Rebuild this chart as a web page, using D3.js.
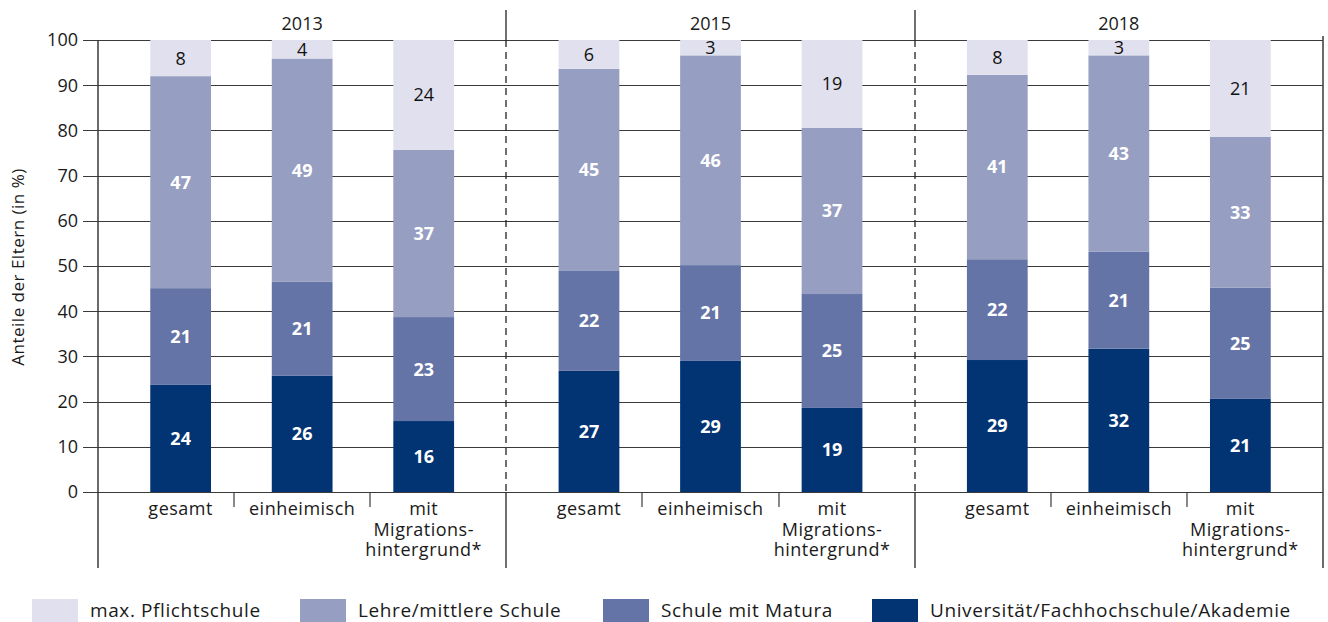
<!DOCTYPE html>
<html>
<head>
<meta charset="utf-8">
<script src="https://cdn.jsdelivr.net/npm/d3@7"></script>
<style>
  body { margin: 0; background: #fff; }
  svg { display: block; font-family: "Open Sans", Lato, sans-serif; }
  .lbl { letter-spacing: 0.5px; }
  .leg { letter-spacing: 0.6px; }
</style>
</head>
<body>
<div id="chart"></div>
<script>
// data (in %)
const years = ["2013", "2015", "2018"];
const groups = ["gesamt", "einheimisch", "mit Migrationshintergrund*"];
const groupLines = [["gesamt"], ["einheimisch"], ["mit", "Migrations-", "hintergrund*"]];
const levels = ["Universität/Fachhochschule/Akademie", "Schule mit Matura", "Lehre/mittlere Schule", "max. Pflichtschule"];
const colors = ["#023474", "#6574a6", "#969ec2", "#e0e0ee"];

// one value per bar: 2013 x3, 2015 x3, 2018 x3
const uni     = [23.7, 25.7, 15.7, 26.8, 29.0, 18.6, 29.2, 31.7, 20.6];
const matura  = [21.4, 20.8, 23.0, 22.1, 21.2, 25.2, 22.3, 21.45, 24.6];
const lehre   = [46.9, 49.4, 37.0, 44.7, 46.4, 36.8, 40.8, 43.45, 33.4];
const pflicht = [8.0, 4.1, 24.3, 6.4, 3.4, 19.4, 7.7, 3.4, 21.4];
const yTicks = [0, 10, 20, 30, 40, 50, 60, 70, 80, 90, 100];

const width = 1328, height = 622;
const plotLeft = 98, plotRight = 1323, plotTop = 40, plotBottom = 492, frameBottom = 568;

const rows = [];
years.forEach((yr, i) => {
    groups.forEach((g, j) => {
        const k = i * 3 + j;
        rows.push({ year: yr, group: g, values: [uni[k], matura[k], lehre[k], pflicht[k]] });
    });
});

const svg = d3.select("#chart").append("svg")
    .attr("width", width)
    .attr("height", height);

const y = d3.scaleLinear().domain([0, 100]).range([plotBottom, plotTop]);
const xYear = d3.scaleBand().domain(years).range([plotLeft, plotRight]);
const xGroup = d3.scaleBand().domain(groups).range([0, xYear.bandwidth()])
    .paddingInner(0.5).paddingOuter(0.43);

// horizontal grid lines with tick stubs
svg.append("g")
    .selectAll("line")
    .data(yTicks)
    .enter()
    .append("line")
    .attr("x1", 83)
    .attr("x2", plotRight)
    .attr("y1", (d) => Math.round(y(d)) + 0.5)
    .attr("y2", (d) => Math.round(y(d)) + 0.5)
    .attr("stroke", "#3a3a3a")
    .attr("stroke-width", 1.2);

svg.append("g")
    .selectAll("text")
    .data(yTicks)
    .enter()
    .append("text")
    .attr("x", 78)
    .attr("y", (d) => y(d))
    .attr("dy", "0.36em")
    .attr("text-anchor", "end")
    .attr("font-size", 18)
    .attr("fill", "#1a1a1a")
    .text((d) => d);

svg.append("text")
    .attr("class", "lbl")
    .attr("transform", `translate(24,${(plotTop + plotBottom) / 2 + 1}) rotate(-90)`)
    .attr("text-anchor", "middle")
    .attr("font-size", 17)
    .attr("fill", "#1a1a1a")
    .text("Anteile der Eltern (in %)");

// stacked bars
const bars = svg.append("g")
    .selectAll("g")
    .data(rows)
    .enter()
    .append("g")
    .attr("transform", (d) => `translate(${xYear(d.year) + xGroup(d.group)},0)`);

bars.each(function (d) {
    let base = 0;
    const segs = d.values.map((v, i) => {
        const s = { v, i, y0: base, y1: base + v };
        base += v;
        return s;
    });
    const g = d3.select(this);
    g.selectAll("rect")
        .data(segs)
        .enter()
        .append("rect")
        .attr("x", 0)
        .attr("width", xGroup.bandwidth())
        .attr("y", (s) => y(s.y1))
        .attr("height", (s) => y(s.y0) - y(s.y1))
        .attr("fill", (s) => colors[s.i]);
    g.selectAll("text")
        .data(segs)
        .enter()
        .append("text")
        .attr("x", xGroup.bandwidth() / 2)
        .attr("y", (s) => y((s.y0 + s.y1) / 2))
        .attr("dy", "0.36em")
        .attr("text-anchor", "middle")
        .attr("font-size", 18)
        .attr("font-weight", (s) => (s.i === 3 ? "normal" : "bold"))
        .attr("fill", (s) => (s.i === 3 ? "#111" : "#fff"))
        .text((s) => Math.round(s.v));
});

// frame: left axis, year separators, right border
svg.append("line")
    .attr("x1", plotLeft).attr("x2", plotLeft)
    .attr("y1", plotTop).attr("y2", frameBottom)
    .attr("stroke", "#3a3a3a").attr("stroke-width", 1.5);
svg.append("line")
    .attr("x1", plotRight).attr("x2", plotRight)
    .attr("y1", plotTop - 4).attr("y2", frameBottom)
    .attr("stroke", "#3a3a3a").attr("stroke-width", 1.5);

const seps = years.slice(1).map((yr) => Math.round(xYear(yr)));
const sepG = svg.append("g")
    .selectAll("g")
    .data(seps)
    .enter()
    .append("g");
sepG.append("line")
    .attr("x1", (d) => d).attr("x2", (d) => d)
    .attr("y1", 10).attr("y2", plotTop)
    .attr("stroke", "#222").attr("stroke-width", 1.3);
sepG.append("line")
    .attr("x1", (d) => d).attr("x2", (d) => d)
    .attr("y1", plotTop).attr("y2", plotBottom)
    .attr("stroke", "#222").attr("stroke-width", 1.3)
    .attr("stroke-dasharray", "7,5");
sepG.append("line")
    .attr("x1", (d) => d).attr("x2", (d) => d)
    .attr("y1", plotBottom).attr("y2", frameBottom)
    .attr("stroke", "#222").attr("stroke-width", 1.3);

// year headers
svg.append("g")
    .selectAll("text")
    .data(years)
    .enter()
    .append("text")
    .attr("x", (d) => xYear(d) + xYear.bandwidth() / 2)
    .attr("y", 30)
    .attr("text-anchor", "middle")
    .attr("font-size", 18)
    .attr("fill", "#1a1a1a")
    .text((d) => d);

// small ticks between categories inside each year
const thirds = [];
years.forEach((yr) => {
    thirds.push(xYear(yr) + xYear.bandwidth() / 3, xYear(yr) + (2 * xYear.bandwidth()) / 3);
});
svg.append("g")
    .selectAll("line")
    .data(thirds)
    .enter()
    .append("line")
    .attr("x1", (d) => Math.round(d)).attr("x2", (d) => Math.round(d))
    .attr("y1", plotBottom).attr("y2", plotBottom + 15)
    .attr("stroke", "#3a3a3a").attr("stroke-width", 1.2);

// category labels
years.forEach((yr) => {
    groups.forEach((g, j) => {
        const cx = xYear(yr) + xGroup(g) + xGroup.bandwidth() / 2;
        const t = svg.append("text")
            .attr("class", "lbl")
            .attr("x", cx)
            .attr("y", 515)
            .attr("text-anchor", "middle")
            .attr("font-size", 18)
            .attr("fill", "#1a1a1a");
        groupLines[j].forEach((line, n) => {
            t.append("tspan")
                .attr("x", cx)
                .attr("dy", n === 0 ? 0 : 20.5)
                .text(line);
        });
    });
});

// legend, lightest first
const legendX = [32, 300, 603, 872];
const legend = svg.append("g")
    .selectAll("g")
    .data([3, 2, 1, 0])
    .enter()
    .append("g")
    .attr("transform", (d, i) => `translate(${legendX[i]},599)`);
legend.append("rect")
    .attr("width", 46)
    .attr("height", 24)
    .attr("fill", (d) => colors[d]);
legend.append("text")
    .attr("class", "leg")
    .attr("x", 58)
    .attr("y", 18)
    .attr("font-size", 19)
    .attr("fill", "#1a1a1a")
    .text((d) => levels[d]);
</script>
</body>
</html>
